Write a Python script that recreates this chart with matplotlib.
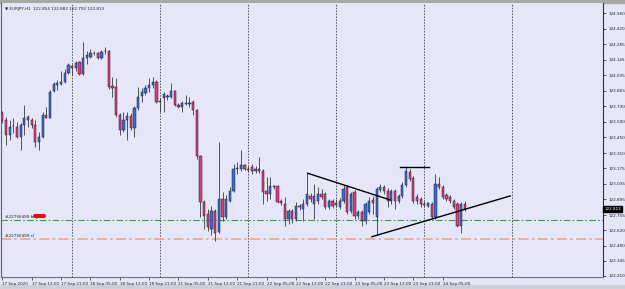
import numpy as np
import matplotlib
matplotlib.use("Agg")
import matplotlib.pyplot as plt
from matplotlib.patches import Rectangle
from matplotlib.transforms import blended_transform_factory

# EURJPY H1, 17 Sep 2020 05:00 .. 24 Sep 2020 11:00
opens = [123.668, 123.606, 123.473, 123.553, 123.544, 123.456, 123.562, 123.632, 123.606, 123.562,
         123.411, 123.456, 123.650, 123.623, 123.862, 123.915, 123.924, 123.942, 124.030, 124.092,
         124.074, 124.127, 124.021, 124.162, 124.171, 124.207, 124.207, 124.162, 124.224, 124.224,
         123.906, 123.897, 123.650, 123.517, 123.606, 123.641, 123.535, 123.712, 123.818, 123.844,
         123.889, 123.915, 123.942, 123.774, 123.800, 123.809, 123.809, 123.862, 123.738, 123.721,
         123.756, 123.752, 123.765, 123.694, 123.279, 122.873, 122.766, 122.634, 122.793, 122.607,
         122.899, 122.740, 122.881, 122.970, 123.164, 123.164, 123.199, 123.164, 123.182, 123.146,
         123.164, 123.146, 122.970, 122.943, 123.014, 123.014, 122.881, 122.855, 122.722, 122.793,
         122.722, 122.837, 122.811, 122.855, 122.926, 122.855, 122.881, 122.943, 122.943, 122.828,
         122.881, 122.846, 122.828, 122.881, 123.005, 122.793, 122.961, 122.749, 122.784, 122.705,
         122.784, 122.890, 122.740, 122.979, 123.005, 122.970, 122.881, 122.970, 122.881, 122.926,
         123.023, 123.137, 123.085, 122.917, 122.899, 122.855, 122.837, 122.855, 122.740, 123.032,
         123.005, 122.934, 122.917, 122.881, 122.855, 122.660, 122.854]
highs = [123.685, 123.632, 123.606, 123.623, 123.588, 123.579, 123.738, 123.650, 123.623, 123.606,
         123.500, 123.677, 123.721, 123.871, 123.942, 123.959, 124.048, 124.065, 124.118, 124.109,
         124.136, 124.136, 124.304, 124.224, 124.242, 124.224, 124.215, 124.233, 124.260, 124.233,
         123.986, 123.977, 123.668, 123.677, 123.677, 123.668, 123.730, 123.897, 123.889, 123.915,
         123.977, 123.986, 123.959, 123.800, 123.853, 123.836, 123.933, 123.871, 123.756, 123.774,
         123.827, 123.809, 123.783, 123.703, 123.288, 122.890, 122.811, 122.837, 122.811, 123.411,
         122.961, 122.934, 123.005, 123.208, 123.226, 123.341, 123.208, 123.191, 123.208, 123.191,
         123.270, 123.164, 123.093, 123.093, 123.023, 123.023, 122.899, 122.917, 122.811, 122.811,
         122.873, 122.855, 122.899, 123.129, 122.952, 123.032, 123.005, 122.988, 122.961, 122.899,
         122.899, 122.899, 122.908, 123.023, 123.023, 122.961, 122.979, 122.802, 122.802, 122.873,
         122.917, 122.926, 123.005, 123.032, 123.023, 122.997, 122.988, 122.988, 122.943, 123.049,
         123.191, 123.164, 123.102, 122.943, 122.917, 122.881, 122.873, 122.873, 123.120, 123.093,
         123.023, 122.952, 122.934, 122.899, 122.873, 122.873, 122.882]
lows = [123.579, 123.385, 123.429, 123.491, 123.447, 123.341, 123.473, 123.544, 123.535, 123.367,
        123.341, 123.447, 123.623, 123.620, 123.853, 123.871, 123.915, 123.933, 124.021, 124.012,
        124.048, 124.012, 124.012, 124.109, 124.162, 124.189, 124.154, 124.154, 124.198, 123.880,
        123.809, 123.632, 123.473, 123.500, 123.429, 123.517, 123.456, 123.694, 123.765, 123.827,
        123.853, 123.889, 123.756, 123.677, 123.677, 123.783, 123.800, 123.730, 123.712, 123.677,
        123.738, 123.721, 123.650, 123.252, 122.740, 122.634, 122.616, 122.572, 122.519, 122.590,
        122.705, 122.722, 122.873, 122.961, 123.120, 123.146, 123.155, 123.137, 123.120, 123.129,
        123.129, 122.855, 122.881, 122.899, 122.988, 122.864, 122.846, 122.660, 122.678, 122.687,
        122.705, 122.802, 122.705, 122.837, 122.873, 122.722, 122.855, 122.899, 122.811, 122.811,
        122.819, 122.828, 122.811, 122.864, 122.766, 122.775, 122.722, 122.722, 122.660, 122.678,
        122.766, 122.766, 122.572, 122.961, 122.943, 122.828, 122.855, 122.811, 122.864, 122.908,
        123.005, 123.058, 122.864, 122.855, 122.828, 122.828, 122.828, 122.722, 122.722, 122.988,
        122.899, 122.881, 122.864, 122.811, 122.652, 122.590, 122.792]
closes = [123.606, 123.473, 123.544, 123.549, 123.456, 123.562, 123.623, 123.606, 123.562, 123.411,
          123.456, 123.650, 123.623, 123.853, 123.924, 123.933, 123.942, 124.030, 124.101, 124.074,
          124.118, 124.021, 124.162, 124.189, 124.207, 124.203, 124.162, 124.215, 124.220, 123.897,
          123.889, 123.650, 123.517, 123.606, 123.641, 123.535, 123.712, 123.809, 123.853, 123.889,
          123.915, 123.942, 123.765, 123.770, 123.836, 123.818, 123.862, 123.738, 123.721, 123.756,
          123.752, 123.756, 123.694, 123.279, 122.873, 122.749, 122.652, 122.793, 122.590, 122.899,
          122.740, 122.899, 122.970, 123.164, 123.173, 123.199, 123.164, 123.155, 123.146, 123.164,
          123.146, 122.961, 122.943, 123.014, 123.010, 122.873, 122.864, 122.722, 122.793, 122.722,
          122.837, 122.828, 122.855, 122.943, 122.899, 122.926, 122.943, 122.917, 122.828, 122.881,
          122.837, 122.864, 122.881, 122.988, 122.784, 122.943, 122.749, 122.784, 122.705, 122.855,
          122.881, 122.864, 122.988, 123.005, 122.970, 122.881, 122.970, 122.881, 122.926, 123.023,
          123.146, 123.076, 122.881, 122.881, 122.855, 122.846, 122.864, 122.740, 123.032, 123.005,
          122.917, 122.899, 122.881, 122.828, 122.660, 122.855, 122.813]

time_labels = ["17 Sep 2020", "17 Sep 13:00", "17 Sep 21:00", "18 Sep 05:00", "18 Sep 13:00",
               "18 Sep 21:00", "21 Sep 05:00", "21 Sep 13:00", "21 Sep 21:00", "22 Sep 05:00",
               "22 Sep 13:00", "22 Sep 21:00", "23 Sep 05:00", "23 Sep 13:00", "23 Sep 21:00",
               "24 Sep 05:00"]
day_breaks = [19, 43, 67, 91, 115, 139]
price_ticks = [124.560, 124.420, 124.285, 124.145, 124.005, 123.865, 123.730, 123.590, 123.450,
               123.310, 123.175, 123.035, 122.895, 122.755, 122.620, 122.480, 122.345, 122.210]

buy_price = 122.711
sl_price = 122.541
order_id = "#22756499"

# drawn objects (bar index, price)
falling_line = ([83.2, 105.7], [123.129, 122.890])
rising_line = ([100.7, 138.4], [122.561, 122.926])
top_line = ([108.3, 116.4], [123.188, 123.188])

bg = "#e6e6fa"
bull = "#3a6ad4"
bear = "#e2387c"

o = np.array(opens)
h = np.array(highs)
l = np.array(lows)
c = np.array(closes)
idx = np.arange(len(o))
up = c >= o

fig = plt.figure(figsize=(6.25, 2.89), dpi=100, facecolor=bg)
ax = fig.add_axes([1.5 / 625, 1 - 277.3 / 289, 601.8 / 625, 274.3 / 289])
ax.set_facecolor(bg)

for d in day_breaks:
    ax.axvline(d, color="#505050", lw=0.7, ls=(0, (1.5, 1.5)), zorder=1)

ax.axhline(buy_price, color="#3a9e3a", lw=0.8, ls=(0, (6, 2, 1.5, 2)), zorder=2)
ax.axhline(sl_price, color="#f2a58a", lw=1.2, ls=(0, (6, 2, 1.5, 2)), zorder=2)
ax.text(0.7, buy_price + 0.012, order_id + " buy", fontsize=3, va="bottom", color="#202020")
ax.text(0.7, sl_price + 0.012, order_id + " sl", fontsize=3, va="bottom", color="#202020")
ax.plot([9.0, 11.3], [buy_price + 0.031] * 2, color="red", lw=3, solid_capstyle="round", zorder=5)

ax.vlines(idx, l, h, color="#3a3a3a", lw=0.6, zorder=3)
body = np.maximum(np.abs(c - o), 0.003)
ax.bar(idx, body, bottom=np.minimum(o, c), width=0.62,
       color=np.where(up, bull, bear), edgecolor="#202020", linewidth=0.35, zorder=4)

for xs, ys in (falling_line, rising_line, top_line):
    ax.plot(xs, ys, color="black", lw=1.0, zorder=6)

ax.set_xlim(-0.22, 163.76)
ax.set_ylim(122.198, 124.652)

ax.yaxis.tick_right()
ax.set_yticks(price_ticks)
ax.set_yticklabels([f"{v:.3f}" for v in price_ticks])
ax.tick_params(axis="y", length=2, width=0.5, labelsize=3, pad=1.5, colors="#202020")
ax.set_xticks(np.arange(0, 8 * len(time_labels), 8))
ax.set_xticklabels(time_labels)
for t in ax.get_xticklabels():
    t.set_ha("left")
ax.tick_params(axis="x", length=2, width=0.5, labelsize=3, pad=1.2, colors="#202020")

for side, col in (("left", "#606060"), ("bottom", "#707070"), ("right", "#303030")):
    ax.spines[side].set_color(col)
    ax.spines[side].set_linewidth(0.8)
ax.spines["top"].set_visible(False)

ax.text(0.006, 0.985, "\u25bc EURJPY,H1  122.854 122.882 122.792 122.813", transform=ax.transAxes,
        fontsize=3, va="top", ha="left", color="#202020")

tr = blended_transform_factory(ax.transAxes, ax.transData)
ax.text(1.002, c[-1], f"{c[-1]:.3f}", transform=tr, fontsize=3, color="white", va="center", ha="left",
        bbox=dict(boxstyle="square,pad=0.25", fc="black", ec="black"), zorder=7, clip_on=False)

fig.add_artist(Rectangle((0, 1 - 2.5 / 289), 1, 2.5 / 289, transform=fig.transFigure,
                         color="#a8a8a8", zorder=0))
fig.add_artist(Rectangle((0, 0), 1, 4 / 289, transform=fig.transFigure, color="#cfcfd8", zorder=0))

fig.savefig("out.png", dpi=100, facecolor=bg)
